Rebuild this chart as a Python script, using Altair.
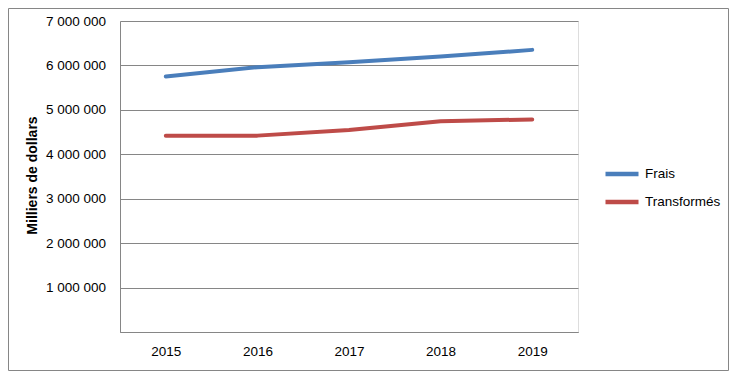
import altair as alt
import pandas as pd

years = ["2015", "2016", "2017", "2018", "2019"]
frais = [5750000, 5960000, 6070000, 6200000, 6350000]
transformes = [4420000, 4420000, 4545000, 4745000, 4785000]
series_names = ["Frais", "Transformés"]
colors = ["#4A7EBB", "#BE4B48"]
y_ticks = [0, 1000000, 2000000, 3000000, 4000000, 5000000, 6000000, 7000000]

rows = []
for name, vals in zip(series_names, [frais, transformes]):
    for yr, v in zip(years, vals):
        rows.append({"Année": yr, "Série": name, "Valeur": v})
df = pd.DataFrame(rows)

FONT = "Liberation Sans, Arial"
GRID = "#868686"

lines = alt.Chart(df).mark_line(strokeWidth=4, strokeCap="round", strokeJoin="round").encode(
    x=alt.X("Année:N", sort=years, title=None,
            axis=alt.Axis(labelAngle=0, ticks=False, labelPadding=12.5, labelFontSize=13.5,
                          labelFont=FONT, labelColor="#000000", domainColor=GRID, domainWidth=1)),
    y=alt.Y("Valeur:Q", scale=alt.Scale(domain=[0, 7000000], nice=False),
            title="Milliers de dollars",
            axis=alt.Axis(values=y_ticks, ticks=False, labelPadding=14.5, labelFontSize=13.5,
                          labelFont=FONT, labelColor="#000000",
                          labelExpr="datum.value == 0 ? '' : replace(replace(format(datum.value, ','), ',', ' '), ',', ' ')",
                          grid=True, gridColor=GRID, gridWidth=1, domainColor=GRID, domainWidth=1,
                          titleFont=FONT, titleFontSize=14, titleFontWeight="bold",
                          titleColor="#000000", titleAngle=-90, titleAlign="center", titleBaseline="middle",
                          titleX=-87.5, titleY=154)),
    color=alt.Color("Série:N", sort=series_names,
                    scale=alt.Scale(domain=series_names, range=colors),
                    legend=alt.Legend(title=None, orient="none", legendX=483, legendY=134,
                                      symbolType="stroke", symbolSize=1089, symbolStrokeWidth=4.5,
                                      labelFont=FONT, labelFontSize=13.5, labelColor="#000000",
                                      labelOffset=4, rowPadding=-4, padding=0)),
)

frame = alt.Chart(pd.DataFrame({"f": [0]})).mark_rect(
    fillOpacity=0, stroke="#868686", strokeWidth=1, clip=False
).encode(
    x=alt.value(-111.5), x2=alt.value(608.5), y=alt.value(-12.5), y2=alt.value(349.5)
)

chart = alt.layer(frame, lines).properties(
    width=458, height=311,
    padding={"left": 112, "top": 13, "right": 157, "bottom": 41},
    autosize=alt.AutoSizeParams(type="none"),
).configure_view(stroke=None).configure(background="#ffffff")

chart.save("out.html", embed_options={"renderer": "svg", "actions": False})
